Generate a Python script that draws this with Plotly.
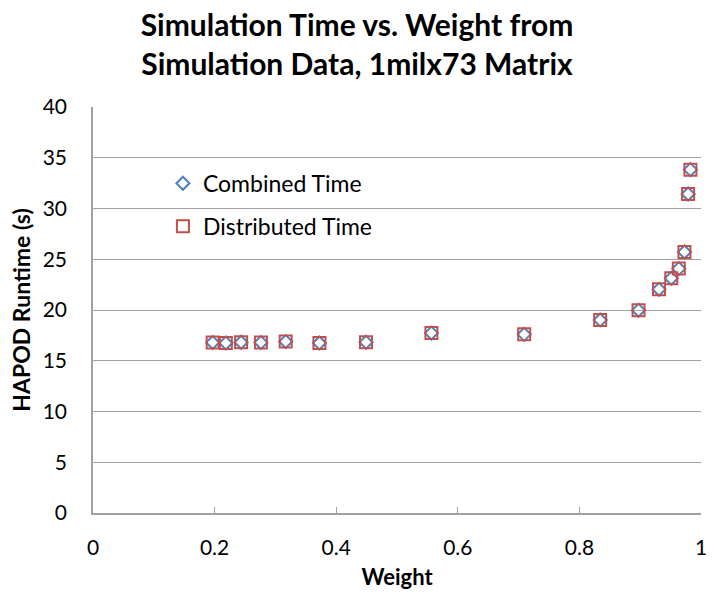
import plotly.graph_objects as go

weight = [0.1968, 0.2185, 0.2436, 0.2762, 0.3169, 0.3724, 0.4490, 0.5566, 0.7092,
          0.8342, 0.8973, 0.9309, 0.9511, 0.9635, 0.9728, 0.9788, 0.9826]
combined_time = [16.79, 16.75, 16.82, 16.79, 16.89, 16.75, 16.82, 17.73, 17.60,
                 19.02, 19.97, 22.04, 23.12, 24.08, 25.72, 31.43, 33.83]
distributed_time = [16.79, 16.75, 16.82, 16.79, 16.89, 16.75, 16.82, 17.73, 17.60,
                    19.02, 19.97, 22.04, 23.12, 24.08, 25.72, 31.43, 33.83]

FONT = "Lato"
fig = go.Figure()
fig.add_trace(go.Scatter(
    x=weight, y=combined_time, mode="markers", name="Combined Time", legendgroup="a",
    marker=dict(symbol="diamond-open", size=10, color="#4F81BD", line=dict(width=2, color="#4F81BD")),
))
fig.add_trace(go.Scatter(
    x=weight, y=distributed_time, mode="markers", name="Distributed Time", legendgroup="b",
    marker=dict(symbol="square-open", size=12, color="#C0504D", line=dict(width=2, color="#C0504D")),
))

fig.update_layout(
    width=714, height=598,
    margin=dict(l=93, r=7, t=107, b=85),
    paper_bgcolor="white", plot_bgcolor="white",
    font=dict(family=FONT, size=21, color="black"),
    title=dict(text="<b>Simulation Time vs. Weight from<br>Simulation Data, 1milx73 Matrix</b>",
               x=0.5, xanchor="center", y=0.94, yanchor="middle", yref="container",
               font=dict(family=FONT, size=30, color="black")),
    legend=dict(x=0.115, y=0.865, xanchor="left", yanchor="top", bgcolor="rgba(0,0,0,0)",
                font=dict(size=23), traceorder="grouped", tracegroupgap=10, itemsizing="trace"),
    showlegend=True,
)
fig.update_xaxes(
    range=[0, 1], tickvals=[0, 0.2, 0.4, 0.6, 0.8, 1], ticktext=["0", "0.2", "0.4", "0.6", "0.8", "1"],
    showgrid=False, zeroline=False, showline=True, linecolor="#A0A0A0", linewidth=1.5,
    ticks="inside", ticklen=6, tickcolor="#A0A0A0", ticklabelstandoff=15,
    title=dict(text="<b>Weight</b>", font=dict(size=22), standoff=12),
)
fig.update_yaxes(
    range=[0, 40], tickvals=[0, 5, 10, 15, 20, 25, 30, 35, 40],
    showgrid=True, gridcolor="#A0A0A0", gridwidth=1.2, zeroline=False,
    showline=True, linecolor="#A0A0A0", linewidth=1.5, ticks="", ticklabelstandoff=20,
    title=dict(text="<b>HAPOD Runtime (s)</b>", font=dict(size=23), standoff=6),
)
fig.write_html("out.html")
